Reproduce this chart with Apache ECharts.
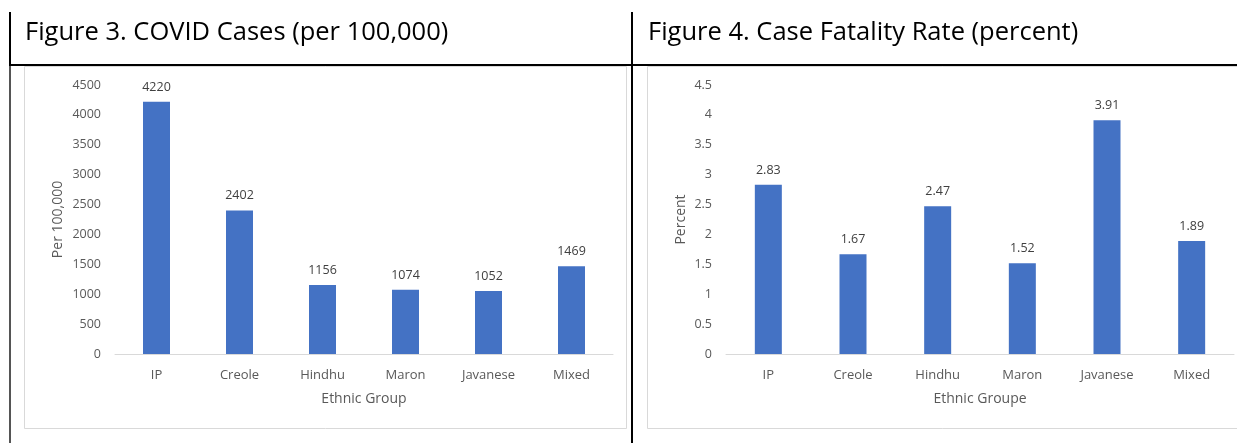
<!DOCTYPE html>
<html>
<head>
<meta charset="utf-8">
<script src="https://cdn.jsdelivr.net/npm/echarts@6/dist/echarts.min.js"></script>
<style>
html,body{margin:0;padding:0;background:#fff;}
#c{width:1237px;height:443px;}
</style>
</head>
<body>
<div id="c"></div>
<script>
var categories = ['IP', 'Creole', 'Hindhu', 'Maron', 'Javanese', 'Mixed'];
var casesPer100k = [4220, 2402, 1156, 1074, 1052, 1469];
var fatalityRate = [2.83, 1.67, 2.47, 1.52, 3.91, 1.89];
var casesTicks = [0, 500, 1000, 1500, 2000, 2500, 3000, 3500, 4000, 4500];
var rateTicks = [0, 0.5, 1, 1.5, 2, 2.5, 3, 3.5, 4, 4.5];
var titles = ['Figure 3. COVID Cases (per 100,000)', 'Figure 4. Case Fatality Rate (percent)'];

var FONT = '"Open Sans", "Noto Sans", sans-serif';
var BAR = '#4472C4';
var TICK = '#595959';
var LABEL = '#404040';

var chart = echarts.init(document.getElementById('c'), null, {renderer: 'canvas'});

function xAxis(gi, name) {
  return {
    type: 'category', gridIndex: gi, data: categories,
    axisLine: {lineStyle: {color: '#D9D9D9', width: 1}},
    axisTick: {show: false},
    axisLabel: {color: TICK, fontFamily: FONT, fontSize: 13, margin: 15},
    name: name, nameLocation: 'middle', nameGap: 38,
    nameTextStyle: {color: TICK, fontFamily: FONT, fontSize: 14}
  };
}
function yAxis(gi, ticks, name, gap) {
  return {
    type: 'value', gridIndex: gi,
    min: ticks[0], max: ticks[ticks.length - 1], interval: ticks[1] - ticks[0],
    splitLine: {show: false},
    axisLine: {show: false}, axisTick: {show: false},
    axisLabel: {color: TICK, fontFamily: FONT, fontSize: 12.5, margin: 14,
      formatter: function (v) { return String(v); }},
    name: name, nameLocation: 'middle', nameGap: gap, nameRotate: 90,
    nameTextStyle: {color: TICK, fontFamily: FONT, fontSize: 14}
  };
}

var option = {
  animation: false,
  backgroundColor: '#ffffff',
  title: [
    {text: titles[0], left: 20, top: 15, textStyle: {fontFamily: FONT, fontSize: 25.5, fontWeight: 'normal', color: '#000'}},
    {text: titles[1], left: 643, top: 15, textStyle: {fontFamily: FONT, fontSize: 25.5, fontWeight: 'normal', color: '#000'}}
  ],
  graphic: [
    {type: 'rect', shape: {x: 24.5, y: 66.5, width: 602, height: 362}, style: {fill: 'none', stroke: '#D9D9D9', lineWidth: 1}, z: 0},
    {type: 'rect', shape: {x: 647.5, y: 66.5, width: 600, height: 362}, style: {fill: 'none', stroke: '#D9D9D9', lineWidth: 1}, z: 0},
    {type: 'line', shape: {x1: 10, y1: 12, x2: 10, y2: 65}, style: {stroke: '#000', lineWidth: 2}, z: 10},
    {type: 'line', shape: {x1: 10, y1: 65, x2: 10, y2: 443}, style: {stroke: '#555', lineWidth: 2}, z: 10},
    {type: 'line', shape: {x1: 632, y1: 12, x2: 632, y2: 443}, style: {stroke: '#000', lineWidth: 2}, z: 10},
    {type: 'line', shape: {x1: 9, y1: 65, x2: 1237, y2: 65}, style: {stroke: '#000', lineWidth: 2}, z: 10}
  ],
  grid: [
    {left: 115, top: 85, width: 498, height: 269},
    {left: 726, top: 85, width: 508, height: 269}
  ],
  xAxis: [xAxis(0, 'Ethnic Group'), xAxis(1, 'Ethnic Groupe')],
  yAxis: [yAxis(0, casesTicks, 'Per 100,000', 50), yAxis(1, rateTicks, 'Percent', 38)],
  series: [
    {
      type: 'bar', xAxisIndex: 0, yAxisIndex: 0, data: casesPer100k, barWidth: 27,
      itemStyle: {color: BAR},
      label: {show: true, position: 'top', distance: 8, color: LABEL, fontFamily: FONT, fontSize: 12.5}
    },
    {
      type: 'bar', xAxisIndex: 1, yAxisIndex: 1, data: fatalityRate, barWidth: 27,
      itemStyle: {color: BAR},
      label: {show: true, position: 'top', distance: 8, color: LABEL, fontFamily: FONT, fontSize: 12.5}
    }
  ]
};
chart.setOption(option);
</script>
</body>
</html>
